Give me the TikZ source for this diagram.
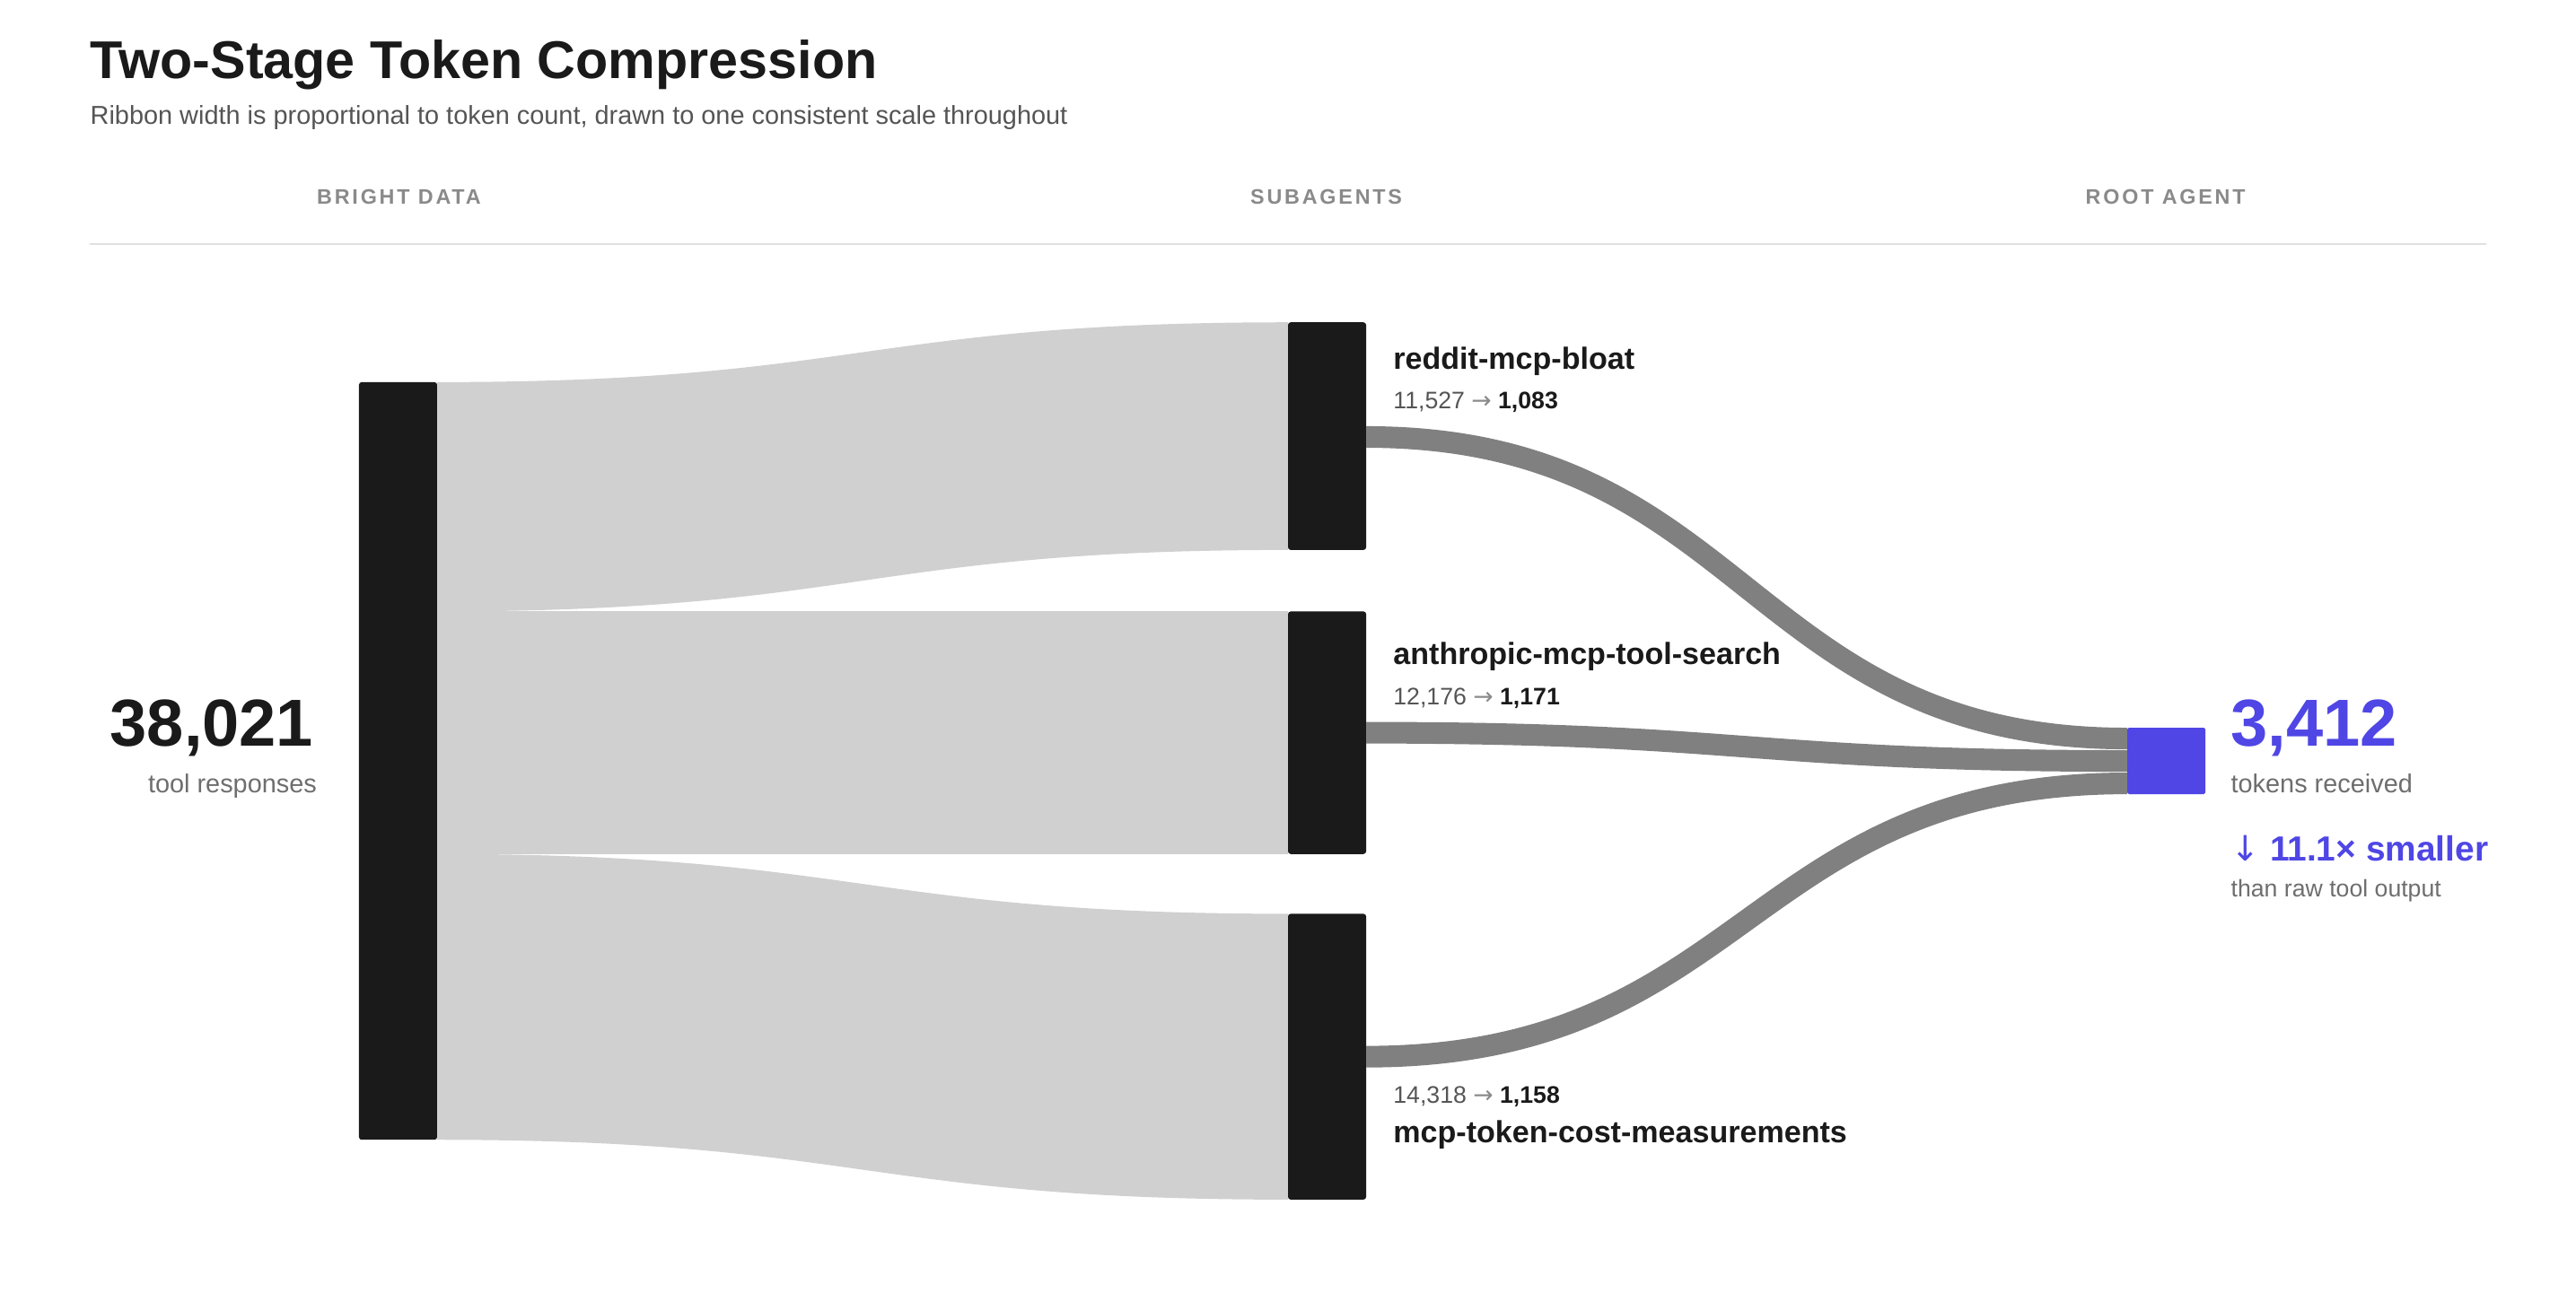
\documentclass[tikz,border=0pt]{standalone}
\usepackage{fontspec}
\setmainfont{Liberation Sans}
\newfontfamily\arr{DejaVu Sans}
\definecolor{barc}{HTML}{1A1A1A}
\definecolor{ribl}{HTML}{D0D0D0}
\definecolor{ribd}{HTML}{808080}
\definecolor{purp}{HTML}{4F46E5}
\definecolor{txtg}{HTML}{555555}
\definecolor{hdrg}{HTML}{8A8A8A}
\begin{document}
\begin{tikzpicture}[x=0.5pt,y=-0.5pt,
  bar/.style={fill=barc,draw=none,rounded corners=0.8pt,inner sep=0,minimum width=23.5pt},
  hdr/.style={font=\fontsize{6.3}{7}\selectfont\bfseries\addfontfeatures{LetterSpace=12},text=hdrg,anchor=base},
  agentlbl/.style={font=\fontsize{9.2}{11}\selectfont\bfseries,anchor=base west,inner sep=0,text=barc},
  numlbl/.style={font=\fontsize{7.2}{9}\selectfont,anchor=base west,inner sep=0,text=txtg},
  ribbon/.style={draw=ribd,line width=6.5pt}]
\useasboundingbox (0,0) rectangle (1550,778);
\fill[white] (0,0) rectangle (1550,778);
% header
\node[anchor=base west,inner sep=0,font=\fontsize{16}{18}\selectfont\bfseries,text=barc] (title) at (54,47) {Two-Stage Token Compression};
\node[anchor=base west,inner sep=0,font=\fontsize{7.8}{9}\selectfont,text=txtg] (sub) at (54,75) {Ribbon width is proportional to token count, drawn to one consistent scale throughout};
\node[hdr] (h1) at (240,123) {BRIGHT DATA};
\node[hdr] (h2) at (798,123) {SUBAGENTS};
\node[hdr] (h3) at (1303,123) {ROOT AGENT};
\coordinate (la) at (54,147); \coordinate (lb) at (1496,147);
\draw[draw=black!12,line width=0.6pt] (la) -- (lb);
% light ribbons
\fill[ribl] (263,230) .. controls (519,230) and (519,194) .. (775,194) -- (775,331) .. controls (519,331) and (519,368) .. (263,368) -- cycle;
\fill[ribl] (263,368) -- (775,368) -- (775,514) -- (263,514) -- cycle;
\fill[ribl] (263,514) .. controls (519,514) and (519,550) .. (775,550) -- (775,722) .. controls (519,722) and (519,686) .. (263,686) -- cycle;
% bars
\node[bar,minimum height=228pt] (L) at (239.5,458) {};
\node[bar,minimum height=68.5pt] (A) at (798.5,262.5) {};
\node[bar,minimum height=73pt] (B) at (798.5,441) {};
\node[bar,minimum height=86pt] (C) at (798.5,636) {};
% dark ribbons
\coordinate (a1) at (822,263); \coordinate (r1) at (1280,444.5);
\coordinate (b1) at (822,441); \coordinate (r2) at (1280,458);
\coordinate (c1) at (822,636); \coordinate (r3) at (1280,471.5);
\draw[ribbon] (a1) .. controls (1051,263) and (1051,444.5) .. (r1);
\draw[ribbon] (b1) .. controls (1051,441) and (1051,458) .. (r2);
\draw[ribbon] (c1) .. controls (1051,636) and (1051,471.5) .. (r3);
\node[fill=purp,inner sep=0,minimum width=23.5pt,minimum height=20pt,rounded corners=0.5pt] (R) at (1303.5,458) {};
% labels
\node[agentlbl] (na) at (838,222) {reddit-mcp-bloat};
\node[numlbl] (va) at (838,246) {11,527 {\arr\color{hdrg}→} \textbf{\color{barc}1,083}};
\node[agentlbl] (nb) at (838,400) {anthropic-mcp-tool-search};
\node[numlbl] (vb) at (838,424) {12,176 {\arr\color{hdrg}→} \textbf{\color{barc}1,171}};
\node[numlbl] (vc) at (838,664) {14,318 {\arr\color{hdrg}→} \textbf{\color{barc}1,158}};
\node[agentlbl] (nc) at (838,688) {mcp-token-cost-measurements};
\node[anchor=base east,inner sep=0,font=\fontsize{20}{22}\selectfont\bfseries,text=barc] (tot) at (189,449) {38,021};
\node[anchor=base east,inner sep=0,font=\fontsize{7.8}{9}\selectfont,text=hdrg!80!black] (totl) at (191,477) {tool responses};
\node[anchor=base west,inner sep=0,font=\fontsize{20}{22}\selectfont\bfseries,text=purp] (out) at (1342,449) {3,412};
\node[anchor=base west,inner sep=0,font=\fontsize{7.8}{9}\selectfont,text=hdrg!80!black] (outl) at (1342,477) {tokens received};
\node[anchor=base west,inner sep=0,font=\fontsize{10.5}{12}\selectfont\bfseries,text=purp] (ratio) at (1342,518) {{\arr\mdseries ↓} 11.1× smaller};
\node[anchor=base west,inner sep=0,font=\fontsize{7.2}{9}\selectfont,text=hdrg!80!black] (ratiol) at (1342,540) {than raw tool output};
\end{tikzpicture}
\end{document}
